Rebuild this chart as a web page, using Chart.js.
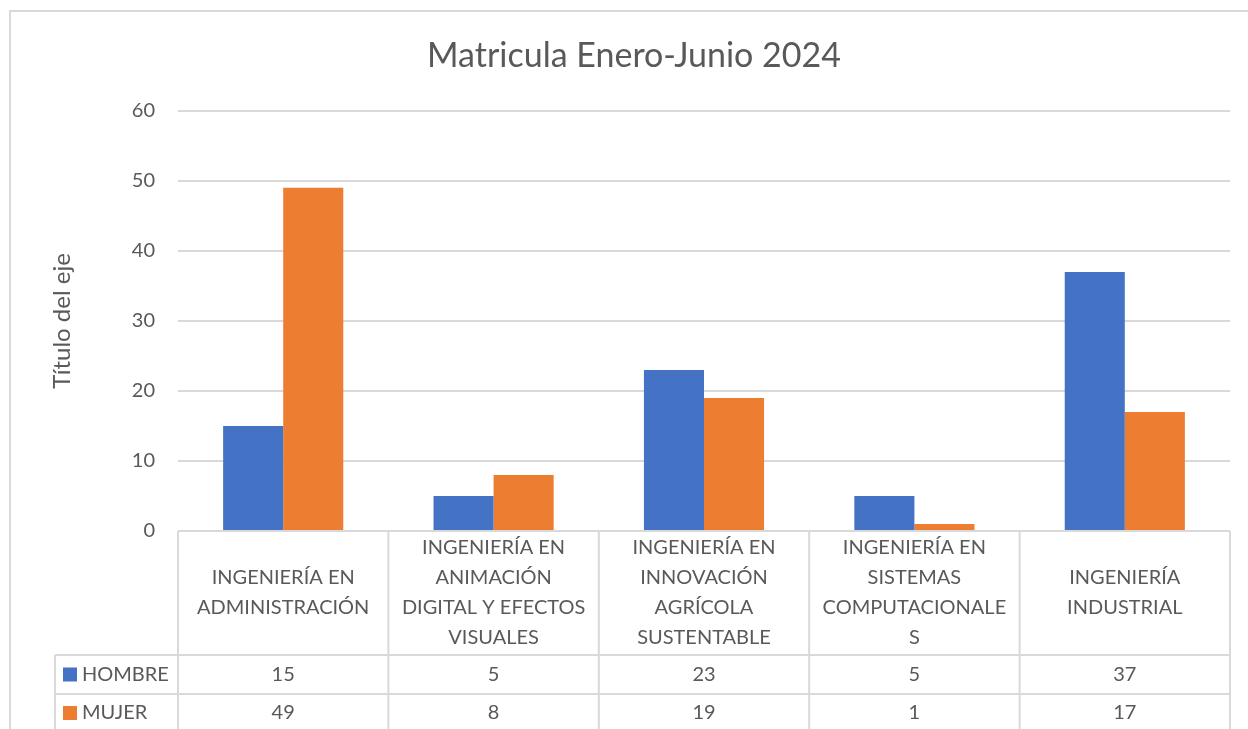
<!DOCTYPE html>
<html>
<head>
<meta charset="utf-8">
<title>Matricula Enero-Junio 2024</title>
<script src="https://cdn.jsdelivr.net/npm/chart.js@4.4.1/dist/chart.umd.min.js"></script>
<style>
  body { margin: 0; background: #fff; }
  canvas { display: block; }
</style>
</head>
<body>
<canvas id="chart" width="1248" height="729"></canvas>
<script>
const categories = [
  ['INGENIERÍA EN', 'ADMINISTRACIÓN'],
  ['INGENIERÍA EN', 'ANIMACIÓN', 'DIGITAL Y EFECTOS', 'VISUALES'],
  ['INGENIERÍA EN', 'INNOVACIÓN', 'AGRÍCOLA', 'SUSTENTABLE'],
  ['INGENIERÍA EN', 'SISTEMAS', 'COMPUTACIONALE', 'S'],
  ['INGENIERÍA', 'INDUSTRIAL']
];
const hombre = [15, 5, 23, 5, 37];
const mujer = [49, 8, 19, 1, 17];
const seriesNames = ['HOMBRE', 'MUJER'];
const colors = ['#4472C4', '#ED7D31'];

const textColor = '#595959';
const lineColor = '#d9d9d9';
const font = 'Lato, "Open Sans", sans-serif';

// dibuja el marco y la tabla de datos bajo el grafico
const dataTable = {
  id: 'dataTable',
  beforeDraw(chart) {
    const ctx = chart.ctx;
    ctx.save();
    ctx.strokeStyle = lineColor;
    ctx.lineWidth = 2;
    ctx.beginPath();
    ctx.moveTo(10, 729);
    ctx.lineTo(10, 11);
    ctx.lineTo(1248, 11);
    ctx.stroke();
    ctx.restore();
  },
  afterDraw(chart) {
    const ctx = chart.ctx;
    const area = chart.chartArea;
    const x = chart.scales.x;
    const n = categories.length;
    const colW = (area.right - area.left) / n;
    const top = area.bottom;
    const row1 = 655, row2 = 694, bottom = 740;
    const labelLeft = 55;

    ctx.save();
    ctx.strokeStyle = lineColor;
    ctx.lineWidth = 2;
    ctx.beginPath();
    ctx.moveTo(area.left, top); ctx.lineTo(area.right, top);
    ctx.moveTo(labelLeft, row1); ctx.lineTo(area.right, row1);
    ctx.moveTo(labelLeft, row2); ctx.lineTo(area.right, row2);
    ctx.moveTo(labelLeft, row1); ctx.lineTo(labelLeft, bottom);
    for (let i = 0; i <= n; i++) {
      const bx = area.left + i * colW;
      ctx.moveTo(bx, top); ctx.lineTo(bx, bottom);
    }
    ctx.stroke();

    ctx.fillStyle = textColor;
    ctx.font = '20px ' + font;
    ctx.textAlign = 'center';
    ctx.textBaseline = 'middle';
    const lh = 30;
    const midCat = (top + row1) / 2;
    categories.forEach((lines, i) => {
      const cx = x.getPixelForValue(i);
      const y0 = midCat - (lines.length - 1) * lh / 2;
      lines.forEach((t, j) => ctx.fillText(t, cx, y0 + j * lh));
    });

    const rows = [hombre, mujer];
    const rowMid = [(row1 + row2) / 2, (row2 + 732) / 2];
    rows.forEach((vals, r) => {
      vals.forEach((v, i) => {
        ctx.fillText(String(v), x.getPixelForValue(i), rowMid[r]);
      });
      ctx.fillStyle = colors[r];
      ctx.fillRect(63, rowMid[r] - 7, 14, 14);
      ctx.fillStyle = textColor;
      ctx.textAlign = 'left';
      ctx.fillText(seriesNames[r], 82, rowMid[r]);
      ctx.textAlign = 'center';
    });
    ctx.restore();
  }
};

new Chart(document.getElementById('chart'), {
  type: 'bar',
  data: {
    labels: categories,
    datasets: [
      { label: seriesNames[0], data: hombre, backgroundColor: colors[0] },
      { label: seriesNames[1], data: mujer, backgroundColor: colors[1] }
    ]
  },
  options: {
    responsive: false,
    animation: false,
    layout: { padding: { left: 38, right: 18, top: 0, bottom: 198 } },
    datasets: { bar: { categoryPercentage: 0.571, barPercentage: 1.0 } },
    plugins: {
      legend: { display: false },
      tooltip: { enabled: false },
      title: {
        display: true,
        text: 'Matricula Enero-Junio 2024',
        color: textColor,
        font: { family: font, size: 34, weight: 'normal', lineHeight: 1.2 },
        padding: { top: 36, bottom: 34 }
      }
    },
    scales: {
      x: {
        display: false
      },
      y: {
        min: 0,
        max: 60,
        afterFit(scale) { scale.width = 140; },
        ticks: {
          stepSize: 10,
          padding: 23,
          color: textColor,
          font: { family: font, size: 20 }
        },
        grid: { color: lineColor, lineWidth: 2, drawTicks: false },
        border: { display: false },
        title: {
          display: true,
          text: 'Título del eje',
          color: textColor,
          font: { family: font, size: 24, weight: 'normal', lineHeight: 1.2 },
          padding: { top: 10, bottom: 0 }
        }
      }
    }
  },
  plugins: [dataTable]
});
</script>
</body>
</html>
